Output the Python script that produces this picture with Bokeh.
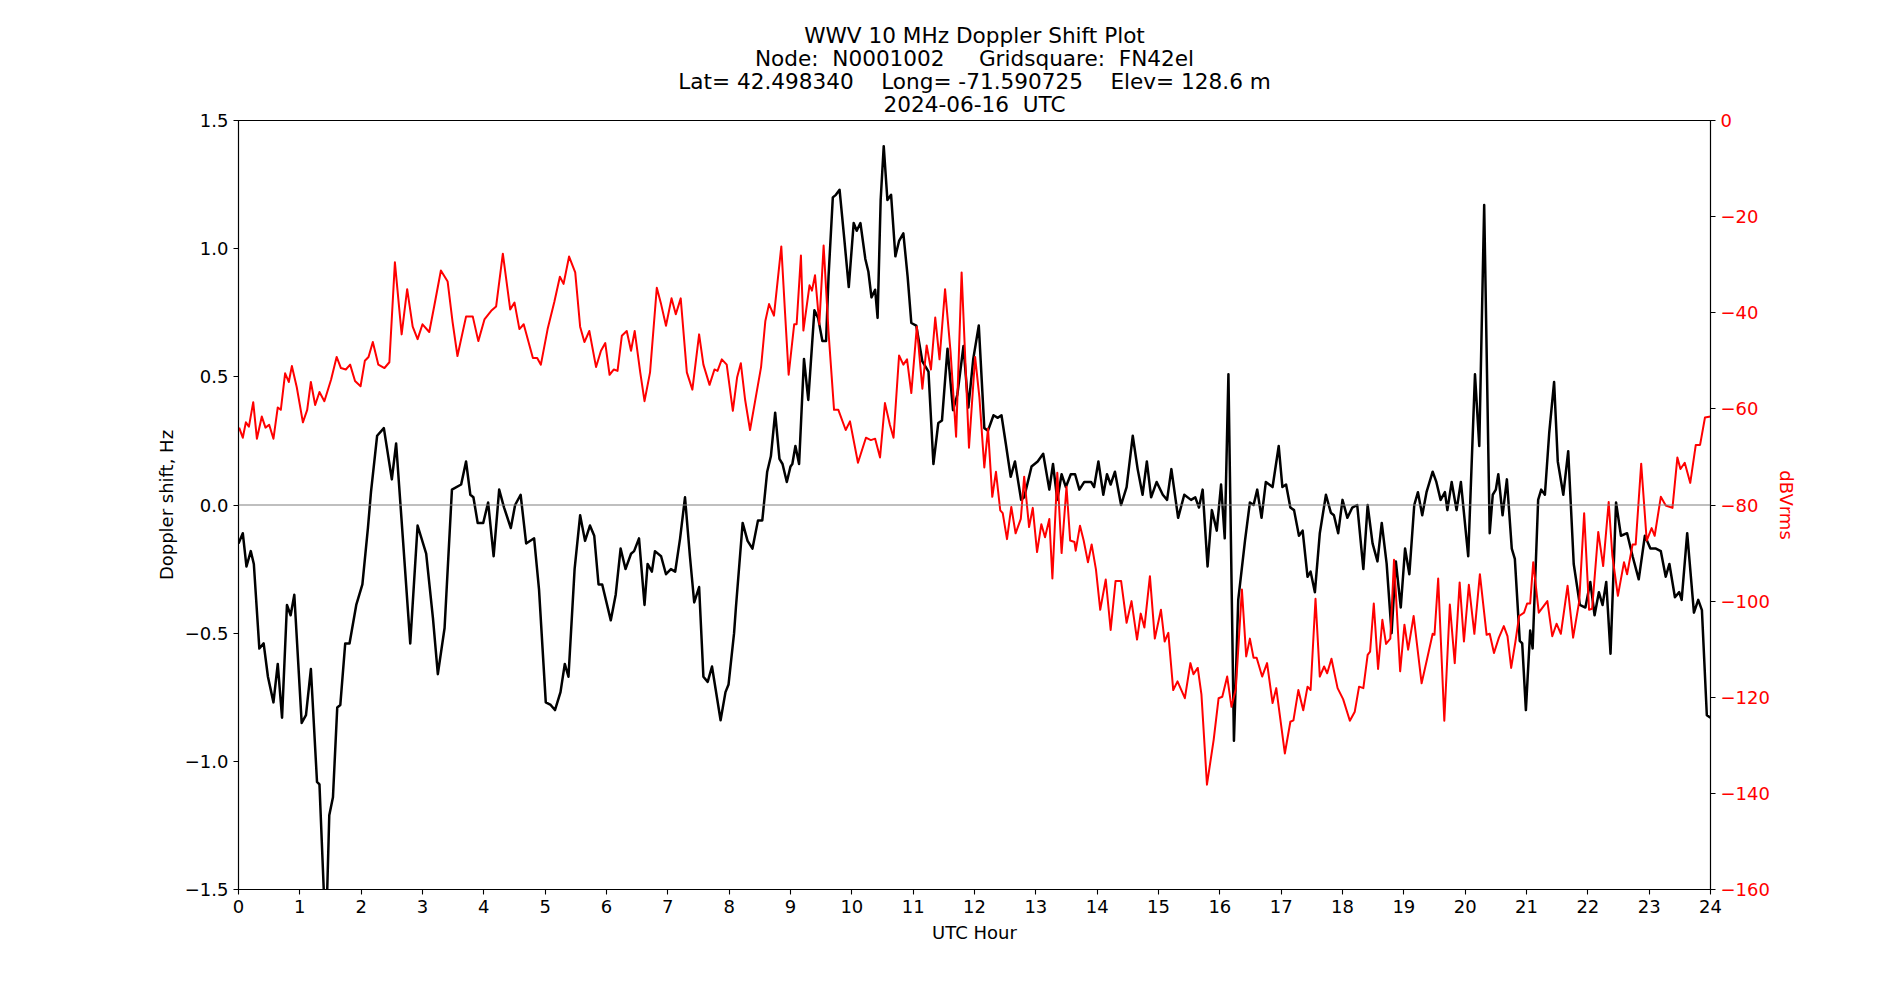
from bokeh.plotting import figure
from bokeh.models import (Range1d, LinearAxis, FixedTicker, CustomJSTickFormatter,
                          Span, Title)
from bokeh.embed import file_html
from bokeh.resources import INLINE

# ---------------- data ----------------
dop_hours = [0.0, 0.07, 0.13, 0.2, 0.25, 0.34, 0.41, 0.48, 0.57, 0.64, 0.71, 0.79, 0.85, 0.91,
             1.03, 1.1, 1.18, 1.28, 1.32, 1.4, 1.44, 1.48, 1.54, 1.61, 1.66, 1.74, 1.81, 1.92,
             2.02, 2.11, 2.16, 2.26, 2.37, 2.5, 2.57, 2.68, 2.8, 2.92, 3.06, 3.17, 3.25, 3.36,
             3.48, 3.63, 3.71, 3.78, 3.83, 3.9, 3.99, 4.07,
             4.16, 4.25, 4.33, 4.44, 4.51, 4.6, 4.69, 4.82, 4.9, 5.01, 5.09, 5.16, 5.25, 5.32,
             5.38, 5.48, 5.57, 5.65, 5.73, 5.8, 5.87, 5.93, 6.07, 6.15, 6.23, 6.31, 6.4, 6.45,
             6.53, 6.62, 6.67, 6.74, 6.79, 6.89, 6.97, 7.05, 7.12, 7.2, 7.28, 7.36, 7.43, 7.51,
             7.58, 7.65, 7.72, 7.78, 7.86, 7.94, 7.99, 8.08,
             8.11, 8.22, 8.3, 8.38, 8.47, 8.54, 8.62, 8.68, 8.75, 8.82, 8.87, 8.94, 9.0, 9.03,
             9.08, 9.14, 9.22, 9.29, 9.39, 9.45, 9.52, 9.58, 9.62, 9.69, 9.74, 9.8, 9.88, 9.95,
             10.03, 10.08, 10.14, 10.22, 10.27, 10.32, 10.38, 10.42, 10.47, 10.52, 10.58, 10.64,
             10.71, 10.77, 10.84, 10.91, 10.97, 11.05, 11.15, 11.25, 11.33, 11.41, 11.47, 11.56,
             11.65, 11.72, 11.82, 11.9, 11.98, 12.07,
             12.16, 12.22, 12.31, 12.38, 12.44, 12.51, 12.59, 12.66, 12.76, 12.81, 12.93, 13.03,
             13.12, 13.22, 13.28, 13.35, 13.42, 13.49, 13.57, 13.64, 13.71, 13.79, 13.9, 13.95,
             14.02, 14.1, 14.16, 14.22, 14.29, 14.39, 14.48, 14.58, 14.66, 14.74, 14.81, 14.88,
             14.97, 15.07, 15.14, 15.21, 15.32, 15.42, 15.53, 15.6, 15.66, 15.72, 15.8, 15.87,
             15.95, 16.02, 16.08, 16.14, 16.23, 16.3,
             16.41, 16.49, 16.55, 16.61, 16.68, 16.75, 16.86, 16.96, 17.02, 17.08, 17.15, 17.21,
             17.29, 17.35, 17.43, 17.48, 17.55, 17.63, 17.73, 17.81, 17.86, 17.93, 18.0, 18.08,
             18.16, 18.24, 18.34, 18.41, 18.49, 18.57, 18.64, 18.72, 18.8, 18.87, 18.95, 19.02,
             19.09, 19.17, 19.23, 19.3, 19.37, 19.47, 19.53, 19.6, 19.67, 19.71, 19.78, 19.86,
             19.93, 20.05, 20.16, 20.23, 20.31,
             20.4, 20.45, 20.5, 20.54, 20.61, 20.68, 20.76, 20.81, 20.89, 20.93, 20.99, 21.06,
             21.1, 21.19, 21.24, 21.3, 21.37, 21.45, 21.51, 21.6, 21.68, 21.77, 21.87, 21.96,
             22.04, 22.11, 22.18, 22.24, 22.3, 22.37, 22.46, 22.54, 22.64, 22.73, 22.83, 22.93,
             23.02, 23.11, 23.19, 23.27, 23.33, 23.42, 23.49, 23.53, 23.62, 23.73, 23.8, 23.86,
             23.94, 24.0]
dop_hz = [-0.15, -0.11, -0.24, -0.18, -0.23, -0.56, -0.54, -0.67, -0.77, -0.62, -0.83, -0.39, -0.43, -0.35,
          -0.85, -0.82, -0.64, -1.08, -1.09, -1.56, -1.56, -1.21, -1.14, -0.79, -0.78, -0.54, -0.54, -0.39,
          -0.31, -0.09, 0.05, 0.27, 0.30, 0.10, 0.24, -0.13, -0.54, -0.08, -0.19, -0.44, -0.66, -0.48,
          0.06, 0.08, 0.17, 0.04, 0.03, -0.07, -0.07, 0.01,
          -0.20, 0.06, -0.01, -0.09, 0.0, 0.04, -0.15, -0.13, -0.33, -0.77, -0.78, -0.80, -0.73, -0.62,
          -0.67, -0.25, -0.04, -0.14, -0.08, -0.12, -0.31, -0.31, -0.45, -0.35, -0.17, -0.25, -0.19, -0.18,
          -0.13, -0.39, -0.23, -0.26, -0.18, -0.20, -0.27, -0.25, -0.26, -0.13, 0.03, -0.20, -0.38, -0.32,
          -0.67, -0.69, -0.63, -0.72, -0.84, -0.73, -0.70, -0.50,
          -0.40, -0.07, -0.14, -0.17, -0.06, -0.06, 0.13, 0.19, 0.36, 0.18, 0.16, 0.09, 0.15, 0.16,
          0.23, 0.16, 0.57, 0.41, 0.76, 0.73, 0.64, 0.64, 0.89, 1.20, 1.21, 1.23, 1.03, 0.85,
          1.10, 1.07, 1.10, 0.96, 0.91, 0.81, 0.84, 0.73, 1.19, 1.40, 1.19, 1.21,
          0.97, 1.03, 1.06, 0.89, 0.71, 0.70, 0.56, 0.52, 0.16, 0.32, 0.33, 0.61,
          0.37, 0.43, 0.62, 0.38, 0.57, 0.70,
          0.30, 0.29, 0.35, 0.34, 0.35, 0.24, 0.11, 0.17, 0.02, 0.03, 0.15, 0.17,
          0.20, 0.06, 0.16, 0.02, 0.12, 0.07, 0.12, 0.12, 0.06, 0.09, 0.09, 0.07,
          0.17, 0.04, 0.12, 0.08, 0.13, 0.0, 0.07, 0.27, 0.14, 0.04, 0.17, 0.03,
          0.09, 0.04, 0.02, 0.14, -0.05, 0.04, 0.02, 0.03, -0.01, 0.06, -0.24, -0.02,
          -0.10, 0.08, -0.13, 0.51, -0.92, -0.37,
          -0.14, 0.01, 0.0, 0.06, -0.05, 0.09, 0.07, 0.23, 0.07, 0.08, -0.01, -0.02,
          -0.12, -0.10, -0.28, -0.26, -0.34, -0.11, 0.04, -0.03, -0.04, -0.11, 0.02, -0.05,
          -0.01, 0.0, -0.25, 0.0, -0.15, -0.22, -0.07, -0.23, -0.50, -0.22, -0.40, -0.17,
          -0.27, 0.0, 0.05, -0.04, 0.05, 0.13, 0.09, 0.02, 0.05, -0.02, 0.09, -0.02,
          0.09, -0.20, 0.51, 0.23, 1.17,
          -0.11, 0.04, 0.06, 0.12, -0.04, 0.10, -0.17, -0.21, -0.53, -0.54, -0.80, -0.49,
          -0.56, 0.02, 0.06, 0.04, 0.28, 0.48, 0.17, 0.04, 0.21, -0.23, -0.39, -0.40,
          -0.30, -0.43, -0.34, -0.39, -0.30, -0.58, 0.01, -0.12, -0.11, -0.20, -0.29, -0.12,
          -0.17, -0.17, -0.18, -0.28, -0.23, -0.36, -0.34, -0.37, -0.11, -0.42, -0.37, -0.41,
          -0.82, -0.83]

sig_hours = [0.01, 0.07, 0.12, 0.17, 0.24, 0.3, 0.38, 0.44, 0.5, 0.57, 0.64, 0.69, 0.76, 0.82,
             0.87, 0.95, 1.05, 1.12, 1.18, 1.25, 1.32, 1.4, 1.51, 1.6, 1.67, 1.75, 1.82, 1.9,
             1.99, 2.06, 2.12, 2.19, 2.28, 2.38, 2.46, 2.55, 2.66, 2.75, 2.84, 2.92, 3.0, 3.11,
             3.19, 3.3, 3.41, 3.49, 3.57, 3.71, 3.82, 3.91, 4.01, 4.12,
             4.2, 4.31, 4.43, 4.5, 4.58, 4.65, 4.8, 4.87, 4.93, 5.04, 5.15, 5.24, 5.3, 5.39,
             5.49, 5.57, 5.64, 5.72, 5.83, 5.91, 5.98, 6.05, 6.12, 6.18, 6.25, 6.33, 6.4, 6.46,
             6.55, 6.62, 6.71, 6.82, 6.89, 6.97, 7.06, 7.13, 7.21, 7.31, 7.4, 7.51, 7.58, 7.68,
             7.76, 7.81, 7.88, 7.96, 8.06, 8.13, 8.19,
             8.26, 8.34, 8.42, 8.52, 8.59, 8.65, 8.73, 8.85, 8.91, 8.97, 9.06, 9.1, 9.17, 9.21,
             9.31, 9.35, 9.4, 9.47, 9.54, 9.62, 9.71, 9.78, 9.9, 9.97, 10.1, 10.23, 10.31, 10.38,
             10.46, 10.54, 10.62, 10.68, 10.77, 10.84, 10.9, 10.97, 11.06, 11.15, 11.22, 11.29,
             11.36, 11.43, 11.52, 11.61, 11.7, 11.79, 11.91, 12.01, 12.08, 12.16,
             12.22, 12.29, 12.35, 12.42, 12.46, 12.53, 12.6, 12.67, 12.755, 12.81, 12.89, 12.95,
             13.02, 13.09, 13.15, 13.22, 13.27, 13.35, 13.42, 13.5, 13.56, 13.63, 13.65, 13.72,
             13.78, 13.85, 13.91, 13.98, 14.05, 14.14, 14.22, 14.3, 14.39, 14.48, 14.56, 14.65,
             14.71, 14.77, 14.86, 14.94, 15.04, 15.1, 15.16, 15.24, 15.31, 15.43, 15.52, 15.57,
             15.64, 15.7, 15.79, 15.9, 15.98, 16.04, 16.12, 16.19, 16.26,
             16.36, 16.43, 16.49, 16.55, 16.6, 16.69, 16.77, 16.86, 16.92, 17.06, 17.15, 17.2,
             17.28, 17.36, 17.43, 17.48, 17.56, 17.63, 17.7, 17.75, 17.82, 17.92, 18.01, 18.12,
             18.2, 18.27, 18.34, 18.41, 18.45, 18.51, 18.58, 18.65, 18.71, 18.78, 18.84, 18.94,
             19.01, 19.07, 19.16, 19.29, 19.38, 19.47, 19.5, 19.56, 19.66, 19.75, 19.83, 19.91,
             19.98, 20.06, 20.15, 20.24,
             20.35, 20.4, 20.47, 20.55, 20.63, 20.69, 20.75, 20.82, 20.88, 20.96, 21.01, 21.06,
             21.11, 21.2, 21.34, 21.42, 21.49, 21.56, 21.67, 21.76, 21.86, 21.94, 22.02, 22.07,
             22.17, 22.25, 22.34, 22.4, 22.49, 22.59, 22.64, 22.73, 22.78, 22.87, 22.96, 23.04,
             23.09, 23.19, 23.27, 23.38, 23.46, 23.51, 23.58, 23.67, 23.76, 23.83, 23.91, 24.0]
sig_db = [-63.9, -66.0, -62.8, -63.7, -58.6, -66.2, -61.6, -63.9, -63.3, -66.2, -59.7, -60.2, -52.6, -54.4,
          -51.1, -55.5, -62.8, -60.2, -54.4, -59.2, -56.5, -58.4, -53.9, -49.2, -51.5, -51.8, -50.8, -54.2,
          -55.3, -50.0, -49.2, -46.1, -50.8, -51.5, -50.3, -29.5, -44.5, -35.1, -42.9, -45.5, -42.4, -44.0,
          -38.7, -31.2, -33.5, -41.9, -49.0, -40.8, -40.8, -45.9, -41.4, -39.6,
          -38.7, -27.7, -39.3, -37.9, -43.4, -42.4, -49.4, -49.4, -50.8, -43.4, -37.7, -32.5, -34.0, -28.3,
          -31.6, -42.9, -46.1, -43.8, -51.3, -47.9, -46.3, -52.9, -51.8, -52.1, -44.8, -43.8, -47.9, -43.8,
          -52.4, -58.4, -52.4, -34.8, -38.2, -42.7, -37.0, -40.3, -37.0, -52.4, -56.0, -44.5, -50.8, -55.0,
          -51.8, -52.1, -49.7, -50.8, -60.4, -53.4, -50.5,
          -58.1, -64.4, -58.6, -51.3, -41.7, -38.2, -40.6, -26.2, -39.8, -52.9, -42.4, -42.4, -28.1, -43.7,
          -34.3, -35.4, -32.2, -42.4, -26.0, -44.0, -60.2, -60.2, -64.4, -62.6, -71.2, -66.0, -66.5, -66.2,
          -70.1, -58.8, -63.3, -66.0, -48.9, -50.8, -49.7, -56.7, -42.9, -55.8, -46.8, -51.8,
          -41.0, -49.7, -35.1, -48.2, -65.8, -31.6, -68.1, -49.2, -57.6, -72.2,
          -64.1, -78.3, -73.1, -81.1, -81.7, -87.1, -80.4, -85.9, -82.9, -74.1, -84.6, -80.6,
          -89.8, -84.0, -86.7, -82.9, -95.3, -73.3, -90.0, -76.2, -87.4, -87.7, -89.5, -84.3,
          -87.4, -91.9, -88.2, -93.4, -101.8, -95.5, -106.0, -95.8, -95.8, -104.5, -100.0, -108.0,
          -102.6, -105.5, -94.8, -107.8, -101.8, -108.4, -106.6, -118.5, -116.7, -120.2, -112.9, -115.2,
          -113.9, -119.4, -138.2, -128.8, -120.2, -119.9, -115.7, -122.0, -118.3,
          -97.6, -111.5, -107.8, -111.8, -111.8, -115.7, -112.9, -121.2, -118.1, -131.7, -125.1, -124.8,
          -118.5, -122.7, -117.8, -118.5, -99.5, -115.7, -113.6, -115.0, -112.0, -118.1, -120.4, -124.9,
          -123.0, -117.8, -118.1, -111.2, -110.5, -100.5, -114.1, -103.9, -108.9, -107.8, -91.4, -114.6,
          -104.9, -110.1, -103.1, -117.1, -112.0, -106.8, -107.0, -95.3, -124.9, -100.7, -112.9, -96.1,
          -108.4, -96.6, -106.8, -94.4,
          -107.0, -106.8, -110.8, -107.6, -105.2, -107.3, -113.9, -108.4, -103.1, -102.4, -100.5, -100.5,
          -91.9, -102.4, -100.0, -107.3, -104.7, -106.8, -96.8, -107.6, -100.0, -81.7, -101.8, -101.6,
          -85.6, -92.7, -79.4, -90.6, -98.9, -91.9, -94.4, -88.2, -88.2, -71.4, -87.4, -84.8,
          -86.4, -78.3, -80.1, -80.6, -70.1, -72.5, -71.2, -75.4, -67.5, -67.5, -61.8, -61.6]

x_ticks = list(range(0, 25))
left_ticks = [-1.5, -1.0, -0.5, 0.0, 0.5, 1.0, 1.5]
right_ticks = [0, -20, -40, -60, -80, -100, -120, -140, -160]

title_lines = ["WWV 10 MHz Doppler Shift Plot",
               "Node:  N0001002     Gridsquare:  FN42el",
               "Lat= 42.498340    Long= -71.590725    Elev= 128.6 m",
               "2024-06-16  UTC"]

FONT = "DejaVu Sans"
TICK_SIZE = "18px"
LABEL_SIZE = "18px"


def keep_spaces(s):
    # keep runs of spaces visible in SVG text
    return s.replace("  ", " \u00a0").replace("\u00a0 ", "\u00a0\u00a0")


p = figure(width=1900, height=1000, output_backend="svg", toolbar_location=None,
           x_range=Range1d(0, 24), y_range=Range1d(-1.5, 1.5),
           min_border_left=238, min_border_right=190, min_border_top=120, min_border_bottom=111,
           background_fill_color="white", border_fill_color="white")
p.title = None
p.extra_y_ranges = {"db": Range1d(-160, 0)}

p.xgrid.visible = False
p.ygrid.visible = False
p.outline_line_color = "black"
p.outline_line_width = 1.1

# title lines: the first one added sits nearest the frame; standoffs tuned for 23px spacing
title_standoffs = [7.3, -15.5, 7.3, -15.5]
for t, s in zip(reversed(title_lines), title_standoffs):
    p.add_layout(Title(text=keep_spaces(t), align="center", text_font=FONT,
                       text_font_size="21.6px", text_font_style="normal", text_color="black",
                       text_line_height=1.0, standoff=s), "above")


def style_axis(ax):
    ax.major_label_text_font = FONT
    ax.major_label_text_font_size = TICK_SIZE
    ax.major_label_text_color = "black"
    ax.axis_label_text_font = FONT
    ax.axis_label_text_font_size = LABEL_SIZE
    ax.axis_label_text_font_style = "normal"
    ax.axis_label_text_color = "black"
    ax.major_tick_in = 0
    ax.major_tick_out = 5
    ax.minor_tick_in = 0
    ax.minor_tick_out = 0
    ax.axis_line_color = "black"
    ax.axis_line_width = 1.1
    ax.major_tick_line_color = "black"
    ax.major_tick_line_width = 1.1
    ax.major_label_standoff = 5


xa = p.xaxis[0]
style_axis(xa)
xa.ticker = FixedTicker(ticks=x_ticks)
xa.axis_label = "UTC Hour"
xa.axis_label_standoff = 6

ya = p.yaxis[0]
style_axis(ya)
ya.ticker = FixedTicker(ticks=left_ticks)
ya.formatter = CustomJSTickFormatter(code='return (tick < 0 ? "\u2212" : "") + Math.abs(tick).toFixed(1);')
ya.axis_label = "Doppler shift, Hz"
ya.axis_label_standoff = 5

ra = LinearAxis(y_range_name="db")
style_axis(ra)
ra.ticker = FixedTicker(ticks=right_ticks)
ra.formatter = CustomJSTickFormatter(code='return (tick < 0 ? "\u2212" : "") + Math.abs(tick).toFixed(0);')
ra.axis_label = "dBVrms"
ra.axis_label_text_color = "red"
ra.major_label_text_color = "red"
ra.axis_label_standoff = 3
p.add_layout(ra, "right")

p.add_layout(Span(location=0, dimension="width", line_color="#808080", line_width=1.1))

p.line(dop_hours, dop_hz, line_color="black", line_width=2.5, line_join="round")
p.line(sig_hours, sig_db, line_color="red", line_width=2.0, line_join="round", y_range_name="db")

open("out.html", "w").write(file_html(p, INLINE))
